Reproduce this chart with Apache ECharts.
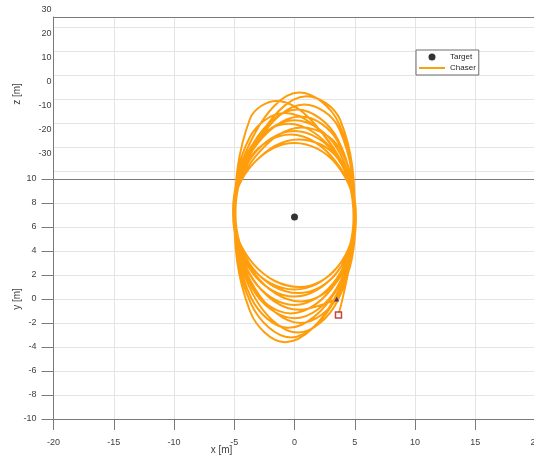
<!DOCTYPE html>
<html><head><meta charset="utf-8">
<script src="https://cdn.jsdelivr.net/npm/echarts@6/dist/echarts.min.js"></script>
<style>html,body{margin:0;padding:0;background:#fff}#c{width:534px;height:457px}</style>
</head><body><div id="c"></div>
<script>
// ---- data ----
const xRange = [-20, 20];      // x [m]
const yRange = [-10, 10];      // y [m] (lower panel ticks)
const zRange = [-40, 30];      // z [m] (upper panel ticks)
const legendNames = ['Target', 'Chaser'];

const targetX = [0];
const targetY = [6.83];
const startX = [3.65], startY = [-1.33];
const endX = [3.5],   endY = [0.0];

const chaserX = [3.65,
  5.0, 3.7, 0.4, -3.3, -5.0, -3.4, 0.3, 3.6,
  4.9, 3.6, 0.2, -3.4, -4.9, -3.6, -0.3, 3.4,
  5.1, 3.4, -0.5, -3.6, -5.1, -3.5, 0.0, 3.5,
  5.0, 3.6, 0.3, -3.4, -5.0, -3.7, -0.8, 3.3,
  4.95, 3.4, -1.5, -3.7, -4.95, -3.3, 0.5, 3.7,
  5.05, 3.6, 0.5, -3.4, -5.05, -3.5, 0.0, 3.5,
  4.9, 3.5, 0.0, -3.5, -4.9, -3.5, 0.0, 3.5,
  5.1, 3.5, 0.0, -3.5, -5.1, -3.4, 0.4, 3.6,
  5.0, 3.8, 1.0, -3.2, -5.0, -3.6, -0.3, 3.4,
  4.95, 3.3, -0.8, -3.7, -4.95, -3.5, 0.0, 3.5,
  5.05, 3.7, 0.6, -3.3, -5.05, -3.3, 0.5, 3.7,
  5.0, 3.7, 0.8, -3.3, -5.0, -3.4, 0.3, 3.6,
  4.9, 3.5, 0.0, -3.5, -4.9, -3.6, -0.5, 3.4,
  5.1, 3.4, -0.3, -3.6, -5.1, -3.4, 0.4, 3.5];
const chaserY = [-1.33,
  6.8, 14.6, 17.2, 13.8, 7.2, 0.3, -2.8, -0.1,
  6.6, 13.3, 15.8, 13.0, 7.4, 1.1, -1.2, 1.3,
  6.9, 12.1, 14.6, 12.7, 7.1, 2.2, 0.2, 2.2,
  6.5, 11.7, 13.3, 11.3, 7.5, -1.0, -3.6, 0.0,
  7.0, 12.3, 16.5, 15.0, 7.0, 0.9, -2.0, 0.4,
  6.7, 13.1, 15.2, 12.5, 7.3, 1.7, -0.5, 1.7,
  6.8, 11.9, 14.0, 11.9, 7.2, 2.6, 0.8, 2.6,
  6.6, 11.2, 13.0, 11.2, 7.4, 2.9, 1.0, 2.7,
  6.9, 14.9, 16.9, 13.1, 7.1, -0.4, -3.2, 0.0,
  6.5, 12.5, 15.5, 13.5, 7.5, 0.9, -1.6, 0.9,
  7.0, 12.6, 14.3, 11.8, 7.2, 2.1, -0.2, 1.7,
  6.7, 14.2, 16.2, 12.8, 7.3, 2.5, 0.5, 2.3,
  6.9, 12.6, 14.9, 12.6, 7.0, 0.1, -2.4, 0.6,
  6.8, 11.5, 13.7, 11.9, 7.4, 1.6, -0.9, 0.0];

// ---- chart ----
const FONT = 'Liberation Sans, Arial, sans-serif';
const TXT = '#404040';
const AX = '#7a7a7a';
const GRID = '#e4e4e4';
const ORANGE = '#FF9E0C';

const zip = (a, b) => a.map((v, i) => [v, b[i]]);
const chart = echarts.init(document.getElementById('c'), null, {renderer: 'canvas'});

const L = 53.5, W = 482;
const noZero = {onZero: false};
const mkGrid = (top, height) => ({left: L, width: W, top, height, containLabel: false, outerBoundsMode: 'none'});
const option = {
  animation: false,
  backgroundColor: '#fff',
  textStyle: {fontFamily: FONT},
  grid: [
    mkGrid(17, 402),   // full frame (orbit)
    mkGrid(179, 240),  // y panel
    mkGrid(10, 168),   // z labels
    mkGrid(17, 162)    // z grid lines
  ],
  xAxis: [
    {gridIndex: 0, type: 'value', position: 'bottom', min: xRange[0], max: xRange[1], interval: 5,
     axisLine: {show: true, onZero: false, lineStyle: {color: AX, width: 1}},
     axisTick: {show: true, inside: false, length: 11, lineStyle: {color: AX}},
     axisLabel: {show: true, margin: 19, color: TXT, fontSize: 9, fontFamily: FONT},
     splitLine: {show: true, lineStyle: {color: GRID, width: 1}},
     name: 'x [m]', nameLocation: 'middle', nameGap: 26, nameMoveOverlap: false,
     nameTextStyle: {color: TXT, fontSize: 10, fontFamily: FONT, padding: [0, 146, 0, 0]}},
    {gridIndex: 0, type: 'value', position: 'top', min: xRange[0], max: xRange[1],
     axisLine: {show: true, onZero: false, lineStyle: {color: AX}}, axisTick: {show: false},
     axisLabel: {show: false}, splitLine: {show: false}},
    {gridIndex: 1, type: 'value', position: 'top', min: xRange[0], max: xRange[1],
     axisLine: {show: true, onZero: false, lineStyle: {color: AX}}, axisTick: {show: false},
     axisLabel: {show: false}, splitLine: {show: false}},
    {gridIndex: 2, type: 'value', show: false, min: xRange[0], max: xRange[1], axisLine: noZero},
    {gridIndex: 3, type: 'value', show: false, min: xRange[0], max: xRange[1], axisLine: noZero}
  ],
  yAxis: [
    {gridIndex: 0, type: 'value', min: yRange[0], max: yRange[0] + 402 / 12,
     axisLine: {show: true, onZero: false, lineStyle: {color: AX}}, axisTick: {show: false},
     axisLabel: {show: false}, splitLine: {show: false}},
    {gridIndex: 1, type: 'value', min: yRange[0], max: yRange[1], interval: 2,
     axisLine: {show: false, onZero: false},
     axisTick: {show: true, inside: false, length: 12, lineStyle: {color: AX}},
     axisLabel: {show: true, margin: 17, color: TXT, fontSize: 9, fontFamily: FONT},
     splitLine: {show: true, lineStyle: {color: GRID}},
     name: 'y [m]', nameLocation: 'middle', nameGap: 31, nameRotate: 90, nameMoveOverlap: false,
     nameTextStyle: {color: TXT, fontSize: 10, fontFamily: FONT}},
    {gridIndex: 2, type: 'value', min: zRange[0], max: zRange[1], interval: 10,
     axisLine: {show: false, onZero: false}, axisTick: {show: false},
     axisLabel: {show: true, margin: 2, color: TXT, fontSize: 9, fontFamily: FONT,
                 formatter: v => (v <= zRange[0] ? '' : String(v))},
     splitLine: {show: false},
     name: 'z [m]', nameLocation: 'middle', nameGap: 31, nameRotate: 90, nameMoveOverlap: false,
     nameTextStyle: {color: TXT, fontSize: 10, fontFamily: FONT}},
    {gridIndex: 3, type: 'value', min: zRange[0] - 10 / 3, max: zRange[0] - 10 / 3 + 162 / 2.4,
     splitNumber: 7,
     axisLine: {show: false, onZero: false}, axisTick: {show: false}, axisLabel: {show: false},
     splitLine: {show: true, lineStyle: {color: GRID}}}
  ],
  legend: {
    data: [{name: legendNames[0]}, {name: legendNames[1], itemStyle: {opacity: 0}}],
    orient: 'vertical', left: 416, top: 50,
    padding: [2, 3, 2, 2], itemGap: 1, itemWidth: 26, itemHeight: 7, itemTextGap: 2,
    backgroundColor: '#fff', borderColor: '#6e6e6e', borderWidth: 1, borderRadius: 0,
    textStyle: {color: '#262626', fontSize: 8, lineHeight: 10, fontFamily: FONT},
    selectedMode: false
  },
  series: [
    {name: 'Chaser', type: 'line', xAxisIndex: 0, yAxisIndex: 0,
     data: zip(chaserX, chaserY), smooth: 0.38, symbol: 'none', showSymbol: false,
     lineStyle: {color: ORANGE, width: 2}, itemStyle: {color: ORANGE}, z: 3, silent: true},
    {name: 'start', type: 'scatter', xAxisIndex: 0, yAxisIndex: 0,
     data: zip(startX, startY), symbol: 'rect', symbolSize: 6,
     itemStyle: {color: '#fff', borderColor: '#b0161b', borderWidth: 1.5}, z: 4, silent: true},
    {name: 'end', type: 'scatter', xAxisIndex: 0, yAxisIndex: 0,
     data: zip(endX, endY), symbol: 'triangle', symbolSize: 5,
     itemStyle: {color: '#1c2570'}, z: 4, silent: true},
    {name: 'Target', type: 'scatter', xAxisIndex: 0, yAxisIndex: 0,
     data: zip(targetX, targetY), symbol: 'circle', symbolSize: 7,
     itemStyle: {color: '#000'}, z: 5, silent: true}
  ]
};
chart.setOption(option);
</script></body></html>
